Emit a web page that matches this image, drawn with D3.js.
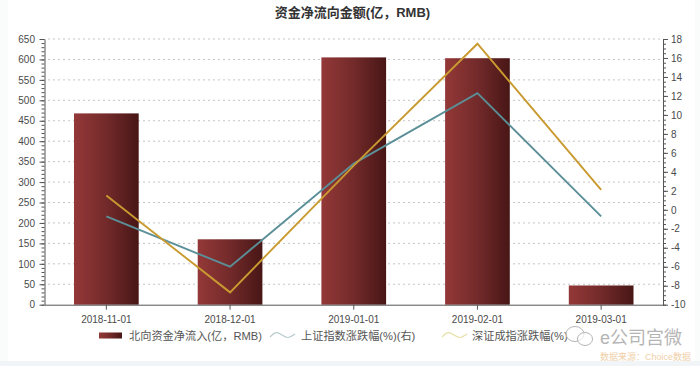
<!DOCTYPE html>
<html>
<head>
<meta charset="utf-8">
<script src="https://cdn.jsdelivr.net/npm/d3@7"></script>
<style>
  html, body { margin: 0; padding: 0; background: #fff; }
  svg { display: block; }
  text { font-family: "Liberation Sans", "Noto Sans CJK SC", sans-serif; }
  .axis text { font-size: 10px; fill: #4a4a4a; }
  .axis path, .axis line { stroke: #555; }
  .grid line { stroke: #8a8a8a; stroke-dasharray: 1 4; }
  .legend text { font-size: 11.2px; fill: #555; }
</style>
</head>
<body>
<svg id="chart" width="700" height="366"></svg>
<script>
const months = ["2018-11-01", "2018-12-01", "2019-01-01", "2019-02-01", "2019-03-01"];
const northFlow = [468, 160, 605, 603, 47];
const shChange = [-0.7, -6.0, 4.87, 12.3, -0.7];
const szChange = [1.5, -8.7, 4.66, 17.5, 2.1];
const leftTicks = d3.range(0, 651, 50);
const rightTicks = d3.range(-10, 19, 2);
const titleText = "资金净流向金额(亿，RMB)";
const legendNames = ["北向资金净流入(亿，RMB)", "上证指数涨跌幅(%)(右)", "深证成指涨跌幅(%)"];

const margin = {left: 44.5, right: 663, top: 39, bottom: 304.7};
const svg = d3.select("#chart");

const x = d3.scaleBand().domain(months).range([margin.left, margin.right]).paddingInner(0.477).paddingOuter(0.2385);
const yLeft = d3.scaleLinear().domain([0, 650]).range([margin.bottom, margin.top]);
const yRight = d3.scaleLinear().domain([-10, 18]).range([margin.bottom, margin.top]);
const center = d => x(d) + x.bandwidth() / 2;

// faint page edge from the screenshot
svg.append("rect").attr("width", 700).attr("height", 366).attr("fill", "#fafbfb");
svg.append("rect").attr("y", 361).attr("width", 700).attr("height", 5).attr("fill", "#f1f5f7");
svg.append("rect").attr("x", 8).attr("width", 687).attr("height", 361).attr("fill", "#fff");

var defs = svg.append("defs");
var grad = defs.append("linearGradient").attr("id", "barFill");
grad.append("stop").attr("offset", "0%").attr("stop-color", "#943838");
grad.append("stop").attr("offset", "50%").attr("stop-color", "#732a2a");
grad.append("stop").attr("offset", "100%").attr("stop-color", "#481616");

svg.append("g").attr("class", "grid")
  .selectAll("line")
  .data(leftTicks.filter(d => d > 0))
  .enter()
  .append("line")
  .attr("x1", margin.left + 4)
  .attr("x2", margin.right - 2)
  .attr("y1", d => yLeft(d))
  .attr("y2", d => yLeft(d));

svg.append("g")
  .selectAll("rect")
  .data(months)
  .enter()
  .append("rect")
  .attr("x", d => x(d))
  .attr("width", x.bandwidth())
  .attr("y", (d, i) => yLeft(northFlow[i]))
  .attr("height", (d, i) => margin.bottom - yLeft(northFlow[i]))
  .attr("fill", "url(#barFill)");

// minor ticks first, the major ones go on top
svg.append("g").attr("class", "axis").attr("transform", `translate(${margin.left},0)`)
  .call(d3.axisLeft(yLeft).tickValues(d3.range(0, 651, 10)).tickSize(3).tickFormat(""))
  .select(".domain").remove();
svg.append("g").attr("class", "axis").attr("transform", `translate(${margin.left},0)`)
  .call(d3.axisLeft(yLeft).tickValues(leftTicks).tickSize(5).tickPadding(4.5).tickSizeOuter(0));

svg.append("g").attr("class", "axis").attr("transform", `translate(${margin.right},0)`)
  .call(d3.axisRight(yRight).tickValues(d3.range(-10, 18.1, 0.5)).tickSize(3).tickFormat(""))
  .select(".domain").remove();
svg.append("g").attr("class", "axis").attr("transform", `translate(${margin.right},0)`)
  .call(d3.axisRight(yRight).tickValues(rightTicks).tickSize(5).tickPadding(3).tickSizeOuter(0).tickFormat(d => String(d)));

svg.append("g").attr("class", "axis").attr("transform", `translate(0,${margin.bottom})`)
  .call(d3.axisBottom(x).tickSize(5).tickPadding(6).tickSizeOuter(0));

var line = d3.line().x(d => center(d.m)).y(d => yRight(d.v));
var toPoints = vals => months.map((m, i) => ({m: m, v: vals[i]}));

svg.append("path")
  .attr("d", line(toPoints(shChange)))
  .attr("fill", "none").attr("stroke", "#5b8f98").attr("stroke-width", 1.9);
svg.append("path")
  .attr("d", line(toPoints(szChange)))
  .attr("fill", "none").attr("stroke", "#c99a30").attr("stroke-width", 1.9);

svg.append("text")
  .attr("x", 352.5).attr("y", 16.5)
  .attr("text-anchor", "middle")
  .attr("font-size", 13).attr("font-weight", "bold").attr("fill", "#333")
  .text(titleText);

// legend
var legend = svg.append("g").attr("class", "legend");
legend.append("rect").attr("x", 99).attr("y", 332.5).attr("width", 23).attr("height", 6).attr("fill", "url(#barFill)");
legend.append("text").attr("x", 129).attr("y", 340).text(legendNames[0]);

var wave = d3.line().curve(d3.curveBasis);
function legendWave(x0, color) {
  legend.append("path")
    .attr("d", wave([[x0, 337], [x0 + 6, 331], [x0 + 12, 335], [x0 + 18, 339], [x0 + 25, 334]]))
    .attr("fill", "none").attr("stroke", color).attr("stroke-width", 1.2);
}
legendWave(270, "#b9cbce");
legend.append("text").attr("x", 301).attr("y", 340).text(legendNames[1]);
legendWave(442, "#e6dfa8");
legend.append("text").attr("x", 472).attr("y", 340).text(legendNames[2]);

// watermark
var mark = svg.append("g");
mark.append("ellipse").attr("cx", 575).attr("cy", 334).attr("rx", 9).attr("ry", 7.5)
  .attr("fill", "#fff").attr("fill-opacity", 0.7).attr("stroke", "#b5b5b5");
mark.append("ellipse").attr("cx", 585).attr("cy", 339).attr("rx", 7.5).attr("ry", 6.5)
  .attr("fill", "#fff").attr("fill-opacity", 0.7).attr("stroke", "#b5b5b5");
mark.append("text").attr("x", 600).attr("y", 344)
  .attr("font-size", 18).attr("fill", "#b5b5b5").text("e公司宫微");
mark.append("text").attr("x", 600).attr("y", 360)
  .attr("font-size", 9).attr("fill", "#f0cfa8").text("数据来源：Choice数据");
</script>
</body>
</html>
